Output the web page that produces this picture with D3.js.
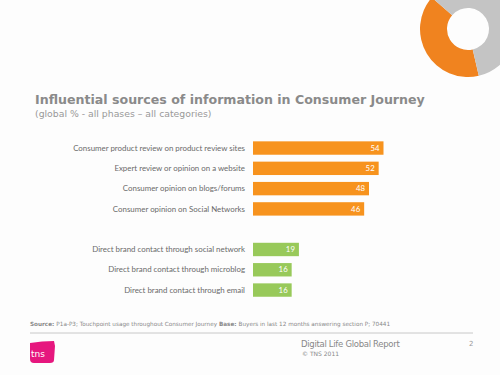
<!DOCTYPE html>
<html><head><meta charset="utf-8">
<script src="https://cdn.jsdelivr.net/npm/d3@7"></script>
<style>html,body{margin:0;padding:0;background:#fff;}svg{display:block;}</style>
</head><body>
<script>
const categories = [
  "Consumer product review on product review sites",
  "Expert review or opinion on a website",
  "Consumer opinion on blogs/forums",
  "Consumer opinion on Social Networks",
  "",
  "Direct brand contact through social network",
  "Direct brand contact through microblog",
  "Direct brand contact through email"
];
const values = [54, 52, 48, 46, null, 19, 16, 16];
const groups = ["consumer","consumer","consumer","consumer",null,"brand","brand","brand"];
const groupColors = {consumer: "#f7931e", brand: "#98c95a"};
const donutShares = [40, 60]; // orange, grey (decorative)

const W = 500, H = 375;
const svg = d3.select("body").append("svg").attr("width", W).attr("height", H);
svg.append("rect").attr("width", W).attr("height", H).attr("fill", "#fdfdfd");

// decorative donut
const pie = d3.pie().sort(null).startAngle(167*Math.PI/180).endAngle((167+360)*Math.PI/180);
const arc = d3.arc().innerRadius(21).outerRadius(48);
svg.append("g").attr("transform", "translate(468,29)")
  .selectAll("path").data(pie(donutShares)).join("path")
  .attr("d", arc).attr("fill", (d,i) => i === 0 ? "#f0831f" : "#c4c4c4");

// title
svg.append("text").attr("x", 35).attr("y", 104)
  .attr("font-family", "DejaVu Sans").attr("font-weight", "bold").attr("font-size", 12.6)
  .attr("fill", "#8a8a8a").text("Influential sources of information in Consumer Journey");
svg.append("text").attr("x", 35).attr("y", 117)
  .attr("font-family", "DejaVu Sans").attr("font-size", 9.3)
  .attr("fill", "#999").text("(global % - all phases \u2013 all categories)");

// bars
const x = d3.scaleLinear().domain([0, 54]).range([253, 383.5]);
const y = d3.scaleBand().domain(d3.range(categories.length)).range([137.9, 300.2]).paddingInner(0.34).paddingOuter(0.17);
const g = svg.append("g");
const rows = categories.map((c,i) => ({c, v: values[i], grp: groups[i], i})).filter(d => d.v !== null);
g.selectAll("rect.bar").data(rows).join("rect")
  .attr("x", x(0)).attr("y", d => y(d.i)).attr("width", d => x(d.v) - x(0)).attr("height", y.bandwidth())
  .attr("fill", d => groupColors[d.grp]);
g.selectAll("text.val").data(rows).join("text")
  .attr("x", d => x(d.v) - 4).attr("y", d => y(d.i) + y.bandwidth()/2 + 2.6)
  .attr("text-anchor", "end").attr("font-family", "Lato").attr("font-size", 7.8)
  .attr("fill", "#fff").text(d => d.v);
g.selectAll("text.lab").data(rows).join("text")
  .attr("x", 245).attr("y", d => y(d.i) + y.bandwidth()/2 + 2.6)
  .attr("text-anchor", "end").attr("font-family", "Lato").attr("font-size", 7.9)
  .attr("fill", "#6a6a6a").text(d => d.c);

// footer
const src = svg.append("text").attr("x", 30).attr("y", 325.5)
  .attr("font-family", "DejaVu Sans").attr("font-size", 5.7).attr("fill", "#888");
src.append("tspan").attr("font-weight", "bold").text("Source: ");
src.append("tspan").text("P1a-P3; Touchpoint usage throughout Consumer Journey  ");
src.append("tspan").attr("font-weight", "bold").text("Base: ");
src.append("tspan").text(" Buyers in last 12 months answering section P; 70441");

svg.append("line").attr("x1", 30).attr("x2", 473).attr("y1", 333).attr("y2", 333)
  .attr("stroke", "#c8c8c8").attr("stroke-width", 1);

// tns logo
svg.append("path").attr("d", "M30,343 Q42,341 54,341 L55,346 L54,360 Q54,363 50,363 L34,363 Q30,363 30,359 Z")
  .attr("fill", "#e6177e");
svg.append("text").attr("x", 31).attr("y", 357).attr("font-family", "DejaVu Sans").attr("font-size", 9)
  .attr("fill", "#fff").text("tns");

svg.append("text").attr("x", 301).attr("y", 347).attr("font-family", "DejaVu Sans").attr("font-size", 8.5)
  .attr("fill", "#888").attr("letter-spacing", -0.3).text("Digital Life Global Report");
svg.append("text").attr("x", 302).attr("y", 356).attr("font-family", "DejaVu Sans").attr("font-size", 6)
  .attr("fill", "#888").text("\u00a9 TNS 2011");
svg.append("text").attr("x", 469).attr("y", 346).attr("font-family", "DejaVu Sans").attr("font-size", 7)
  .attr("fill", "#999").text("2");
</script>
</body></html>
